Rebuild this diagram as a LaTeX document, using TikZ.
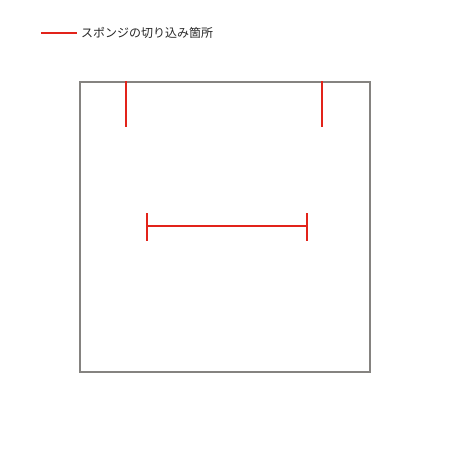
\documentclass[tikz,border=0pt]{standalone}
\usepackage{fontspec}
\newfontfamily\cjk{Noto Sans CJK JP}
\definecolor{boxgray}{HTML}{858380}
\definecolor{cutred}{HTML}{E2231A}
\begin{document}
\begin{tikzpicture}[x=1pt,y=-1pt,
  frame/.style={draw=boxgray,line width=2pt},
  cut/.style={draw=cutred,line width=2pt},
  legendtext/.style={anchor=west,inner sep=0pt,font=\cjk\fontsize{12}{12}\selectfont,text=black!85}]
\useasboundingbox (0,0) rectangle (450,450);
\node[frame,minimum width=290pt,minimum height=290pt,inner sep=0pt,anchor=north west] (box) at (78.5,80.5) {};
% legend
\coordinate (l1) at (41,33);
\coordinate (l2) at (77,33);
\draw[cut] (l1) -- (l2);
\node[legendtext] (lt) at (81,32.5) {スポンジの切り込み箇所};
% top cuts
\coordinate (a1) at (126,81);
\coordinate (a2) at (126,127);
\coordinate (b1) at (322,81);
\coordinate (b2) at (322,127);
\draw[cut] (a1) -- (a2);
\draw[cut] (b1) -- (b2);
% middle cut
\coordinate (m1) at (147,226);
\coordinate (m2) at (307,226);
\coordinate (t1a) at (147,213);
\coordinate (t1b) at (147,241);
\coordinate (t2a) at (307,213);
\coordinate (t2b) at (307,241);
\draw[cut] (m1) -- (m2);
\draw[cut] (t1a) -- (t1b);
\draw[cut] (t2a) -- (t2b);
\end{tikzpicture}
\end{document}
